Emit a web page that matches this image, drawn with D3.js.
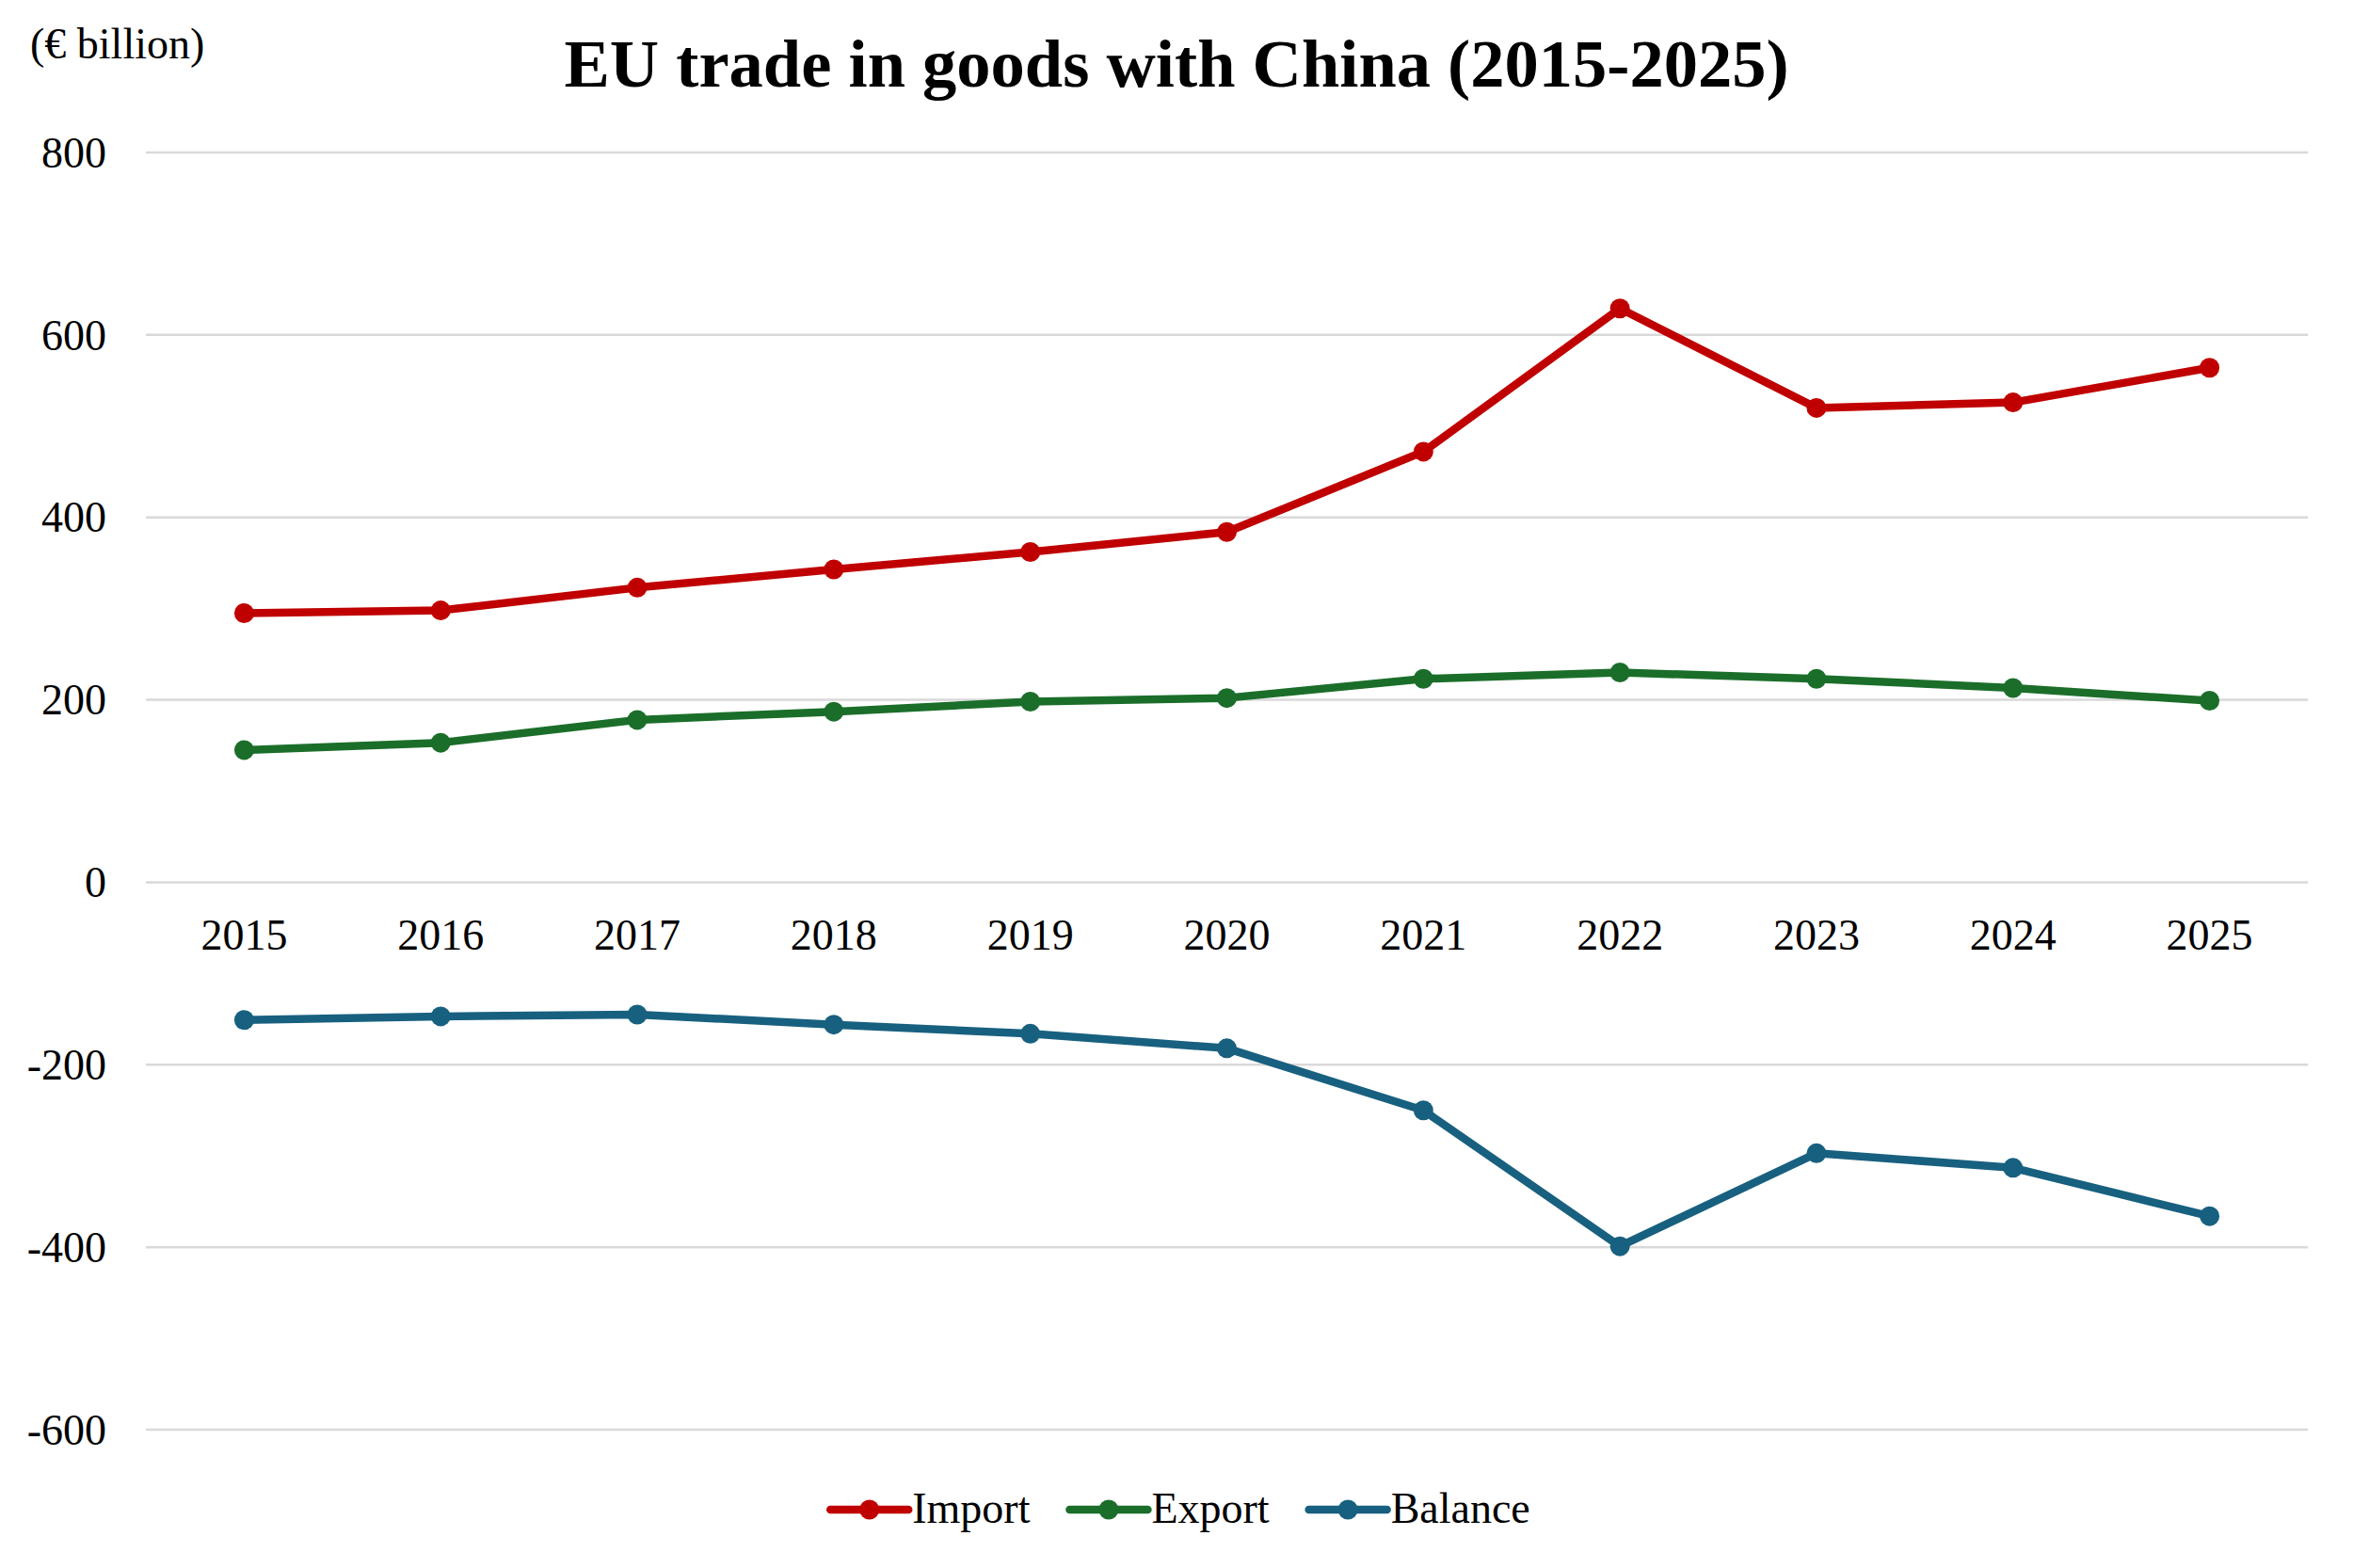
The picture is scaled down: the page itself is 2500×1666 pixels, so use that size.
<!DOCTYPE html>
<html>
<head>
<meta charset="utf-8">
<script src="https://cdn.jsdelivr.net/npm/d3@7"></script>
<style>
  html, body { margin: 0; padding: 0; background: #ffffff; }
  svg { display: block; }
  text { font-family: "Liberation Serif", "Times New Roman", serif; fill: #000; }
</style>
</head>
<body>
<svg id="chart" width="2500" height="1666"></svg>
<script>
const years = ["2015","2016","2017","2018","2019","2020","2021","2022","2023","2024","2025"];
const importValues  = [295, 298, 323, 343, 362, 384, 472, 629, 520, 526, 564];
const exportValues  = [145, 153, 178, 187, 198, 202, 223, 230, 223, 213, 199];
const balanceValues = [-151, -147, -145, -156, -166, -182, -250, -399, -297, -313, -366];
const yTicks = [800, 600, 400, 200, 0, -200, -400, -600];
const seriesNames = ["Import", "Export", "Balance"];
const seriesColors = ["#C00000", "#1B6E2A", "#18607F"];
const titleText = "EU trade in goods with China (2015-2025)";
const unitText = "(€ billion)";

const series = [
  { name: seriesNames[0], color: seriesColors[0], values: importValues },
  { name: seriesNames[1], color: seriesColors[1], values: exportValues },
  { name: seriesNames[2], color: seriesColors[2], values: balanceValues }
];

const svg = d3.select("#chart");
const plotLeft = 155, plotRight = 2452, yTop = 162, yBottom = 1519;

const x = d3.scaleBand().domain(years).range([plotLeft, plotRight]).padding(0);
const y = d3.scaleLinear().domain([-600, 800]).range([yBottom, yTop]);
const cx = d => x(d) + x.bandwidth() / 2;

// Gridlines
svg.append("g")
  .selectAll("line")
  .data(yTicks)
  .join("line")
  .attr("x1", plotLeft).attr("x2", plotRight)
  .attr("y1", d => y(d)).attr("y2", d => y(d))
  .attr("stroke", "#d9d9d9").attr("stroke-width", 2.5);

// Y axis labels (hyphen-minus as in the reference)
const yAxis = d3.axisLeft(y).tickValues(yTicks).tickSize(0).tickPadding(0)
  .tickFormat(d => String(d));
const gy = svg.append("g").attr("transform", `translate(113,0)`).call(yAxis);
gy.select(".domain").remove();
gy.selectAll("text")
  .attr("font-family", '"Liberation Serif", "Times New Roman", serif')
  .attr("font-size", 46).attr("fill", "#000").attr("dy", "0.33em");

// X axis labels (positioned at the zero line)
const xAxis = d3.axisBottom(x).tickSize(0).tickPadding(0);
const gx = svg.append("g").attr("transform", `translate(0,${y(0)})`).call(xAxis);
gx.select(".domain").remove();
gx.selectAll("text")
  .attr("font-family", '"Liberation Serif", "Times New Roman", serif')
  .attr("font-size", 46).attr("fill", "#000")
  .attr("y", 72).attr("dy", 0);

// Lines and markers
const line = d3.line().x((v, i) => cx(years[i])).y(v => y(v));
series.forEach(s => {
  svg.append("path")
    .datum(s.values)
    .attr("d", line)
    .attr("fill", "none")
    .attr("stroke", s.color)
    .attr("stroke-width", 8.5)
    .attr("stroke-linejoin", "round")
    .attr("stroke-linecap", "round");
  svg.append("g")
    .selectAll("circle")
    .data(s.values)
    .join("circle")
    .attr("cx", (v, i) => cx(years[i]))
    .attr("cy", v => y(v))
    .attr("r", 10.5)
    .attr("fill", s.color);
});

// Title
svg.append("text")
  .attr("x", 1250).attr("y", 92)
  .attr("text-anchor", "middle")
  .attr("font-size", 72.5).attr("font-weight", "bold")
  .text(titleText);

// Unit label
svg.append("text")
  .attr("x", 32).attr("y", 62)
  .attr("font-size", 46)
  .text(unitText);

// Legend
const legend = svg.append("g");
const lineLen = 83, textGap = 4, itemGap = 42, legendY = 1604;
let cursor = 0;
const items = [];
series.forEach(s => {
  const g = legend.append("g");
  g.append("line")
    .attr("x1", 0).attr("x2", lineLen)
    .attr("y1", 0).attr("y2", 0)
    .attr("stroke", s.color).attr("stroke-width", 8.5).attr("stroke-linecap", "round");
  g.append("circle").attr("cx", lineLen / 2).attr("cy", 0).attr("r", 10.5).attr("fill", s.color);
  const t = g.append("text")
    .attr("x", lineLen + textGap).attr("y", 14)
    .attr("font-size", 46)
    .text(s.name);
  const w = lineLen + textGap + t.node().getComputedTextLength();
  items.push({ g, offset: cursor });
  cursor += w + itemGap;
});
const totalW = cursor - itemGap;
const legendStart = 1254 - totalW / 2;
items.forEach(it => it.g.attr("transform", `translate(${legendStart + it.offset},${legendY})`));
</script>
</body>
</html>
